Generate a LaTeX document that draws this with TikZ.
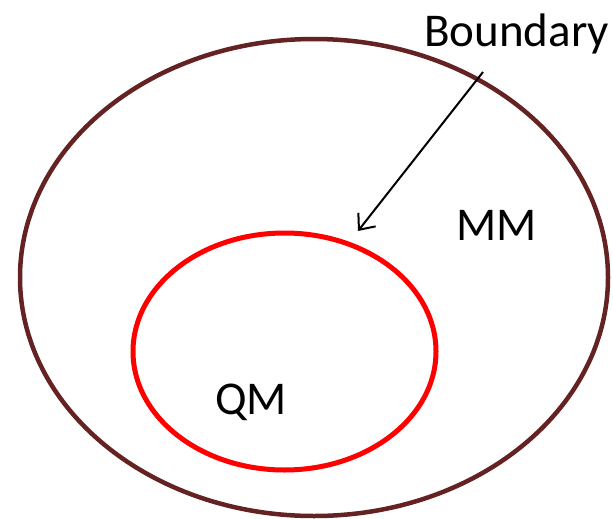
\documentclass[tikz,border=0pt]{standalone}
\usepackage{fontspec}
\setmainfont{Carlito}
\usetikzlibrary{shapes.geometric,arrows.meta}
\definecolor{outerbrown}{RGB}{100,34,34}
\tikzset{
  region/.style={ellipse, draw, inner sep=0pt, outer sep=0pt},
  lbl/.style={anchor=base west, inner sep=0pt, font=\fontsize{47}{55}\selectfont},
}
\begin{document}
\begin{tikzpicture}[x=1pt,y=-1pt]
\useasboundingbox (0,0) rectangle (613,519);
\node[region, draw=outerbrown, line width=4.5pt, minimum width=588pt, minimum height=477pt] (mm) at (314,277.5) {};
\node[region, draw=red, line width=5pt, minimum width=303pt, minimum height=237pt] (qm) at (284.5,351.5) {};
\node[lbl] (boundary) at (424,47) {Boundary};
\node[lbl] (mmlbl) at (456,240) {MM};
\node[lbl] (qmlbl) at (215,414) {QM};
\coordinate (astart) at (483,72);
\coordinate (aend) at (358,231);
\draw[line width=2pt, -{Straight Barb[length=13pt,width=22pt,line width=2pt]}] (astart) -- (aend);
\end{tikzpicture}
\end{document}
